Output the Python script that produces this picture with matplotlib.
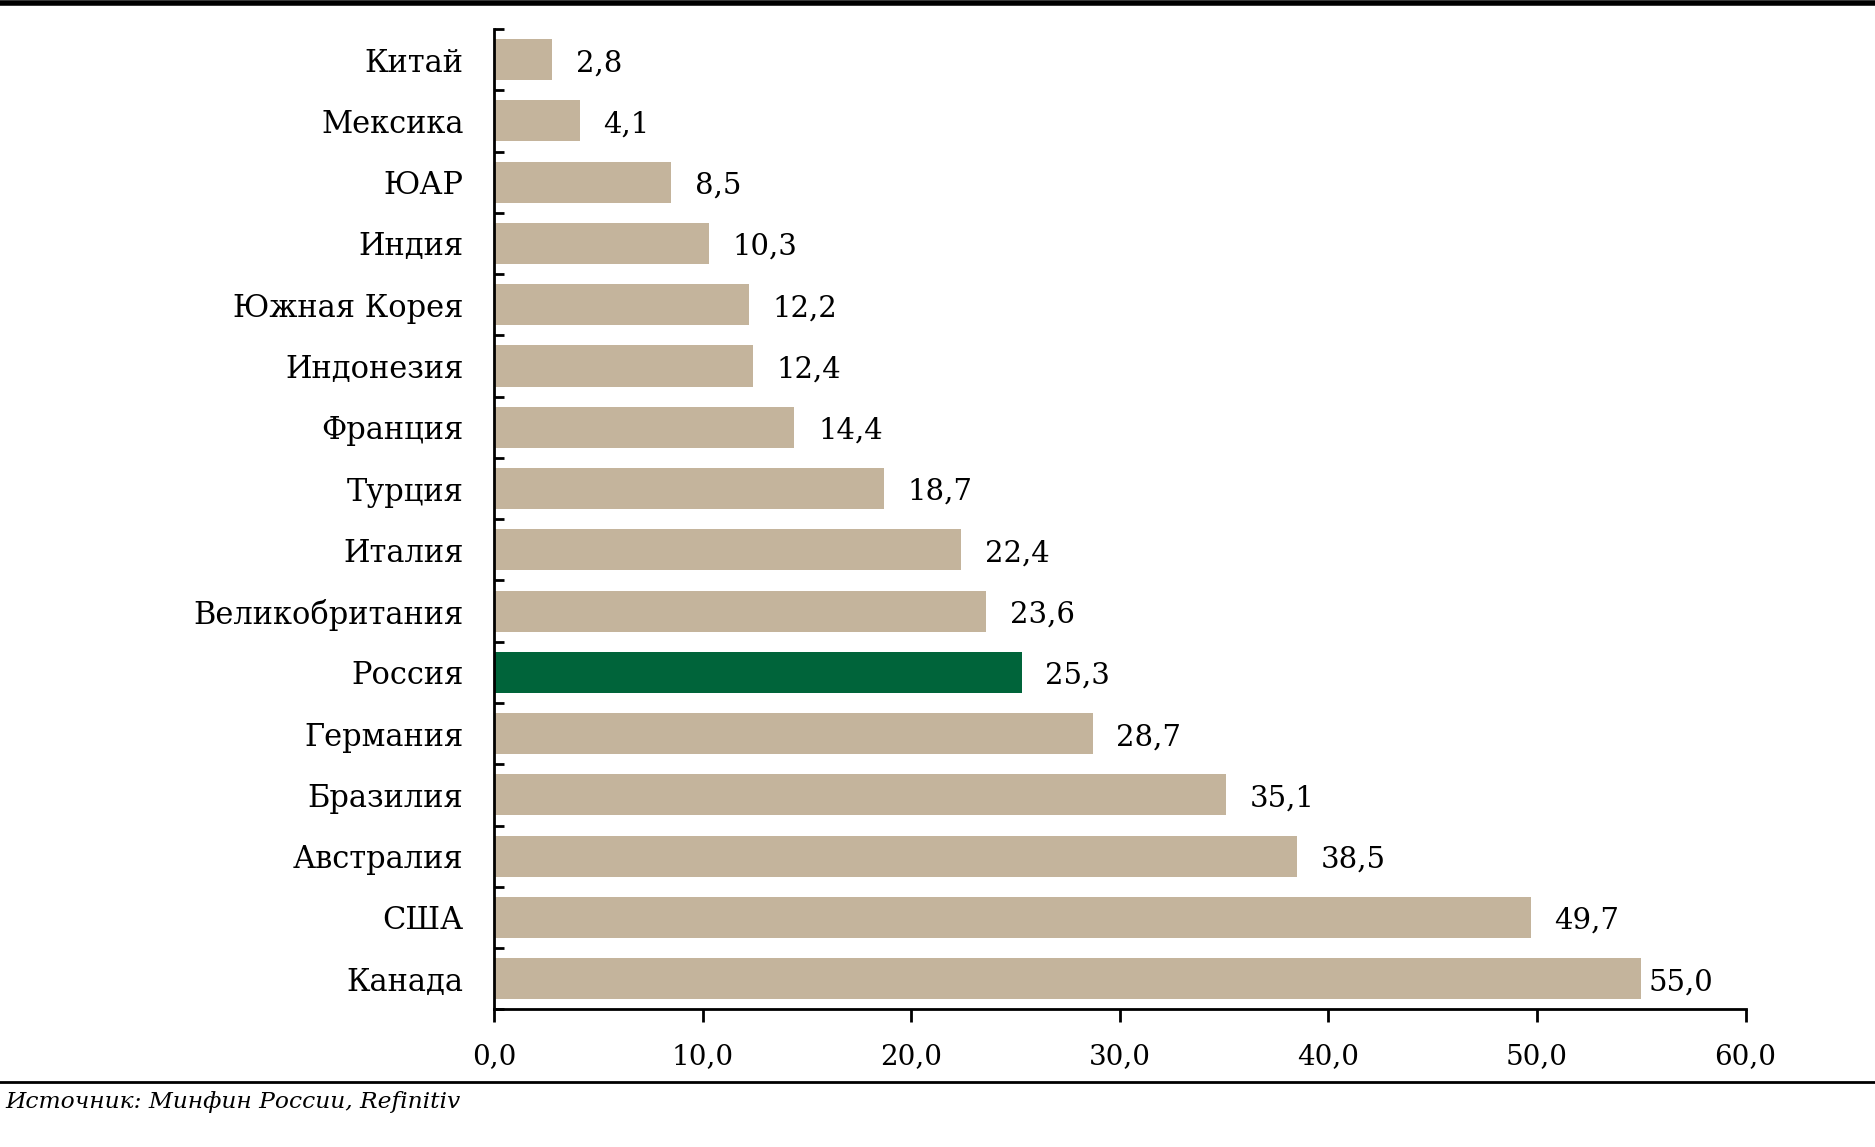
import matplotlib.pyplot as plt
import numpy as np

# Страны и значения (сверху вниз, как на графике)
paises = ['Китай', 'Мексика', 'ЮАР', 'Индия', 'Южная Корея', 'Индонезия',
          'Франция', 'Турция', 'Италия', 'Великобритания', 'Россия',
          'Германия', 'Бразилия', 'Австралия', 'США', 'Канада']
valores = [2.8, 4.1, 8.5, 10.3, 12.2, 12.4, 14.4, 18.7, 22.4, 23.6, 25.3,
           28.7, 35.1, 38.5, 49.7, 55.0]
destacado = 'Россия'

marcas_x = [0, 10, 20, 30, 40, 50, 60]
fuente = 'Источник: Минфин России, Refinitiv'

color_barra = '#C4B49C'
color_rusia = '#00643A'

plt.rcParams['font.family'] = ['DejaVu Serif']

fig = plt.figure(figsize=(18.75, 11.47), dpi=100)
ax = fig.add_axes([0.2635, 0.120, 0.6675, 0.8547])

posiciones = np.arange(len(paises))
colores = [color_rusia if p == destacado else color_barra for p in paises]
ax.barh(posiciones, valores, height=0.67, color=colores)

ax.set_ylim(len(paises) - 0.5, -0.5)
ax.set_xlim(0, 60)

# etiquetas de valores
for pos, v in zip(posiciones, valores):
    separacion = 5 if v == max(valores) else 17
    ax.annotate(f'{v:.1f}'.replace('.', ','), (v, pos), xytext=(separacion, -2.5),
                textcoords='offset points', va='center', ha='left', fontsize=21)

ax.set_yticks(posiciones)
ax.set_yticklabels(paises, fontsize=22)
ax.set_yticks(np.arange(len(paises) + 1) - 0.5, minor=True)
ax.tick_params(axis='y', which='major', length=0, pad=22)
ax.tick_params(axis='y', which='minor', direction='in', length=7, width=2)

ax.set_xticks(marcas_x)
ax.set_xticklabels([f'{m:.1f}'.replace('.', ',') for m in marcas_x], fontsize=20)
ax.tick_params(axis='x', direction='out', length=9, width=2, pad=15)

for lado in ['top', 'right']:
    ax.spines[lado].set_visible(False)
for lado in ['left', 'bottom']:
    ax.spines[lado].set_linewidth(2)

# lineas horizontales de la plantilla
fig.add_artist(plt.Line2D([0, 1], [1 - 3 / 1147, 1 - 3 / 1147], color='black', linewidth=4))
fig.add_artist(plt.Line2D([0, 1], [1 - 1082 / 1147, 1 - 1082 / 1147], color='black', linewidth=2))

fig.text(5 / 1875, 1 - 1102 / 1147, fuente, fontsize=16.8, style='italic', va='center', ha='left')

fig.savefig('out.png', dpi=100)
